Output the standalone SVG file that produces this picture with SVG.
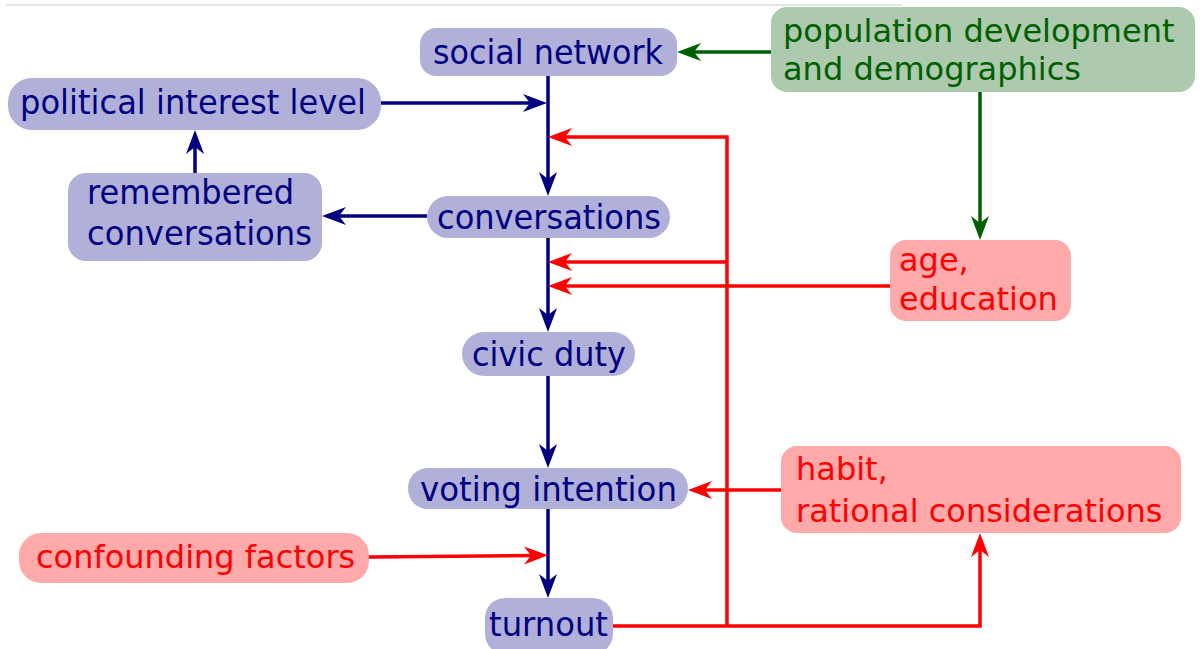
<svg xmlns="http://www.w3.org/2000/svg" width="1202" height="649" viewBox="0 0 1202 649">
<style>
text{font-family:"DejaVu Sans","Liberation Sans",sans-serif;font-size:32px}
.b rect{fill:#b0b0d9}
.b text{fill:#000080;font-size:34.5px}
.g rect{fill:#adcaae}
.g text{fill:#006000}
.r rect{fill:#ffaaaa}
.r text{fill:#ff0000}
.cb{stroke:#000080;stroke-width:3.5;fill:none}
.cg{stroke:#006000;stroke-width:3.5;fill:none}
.cr{stroke:#ff0000;stroke-width:3.5;fill:none}
</style>
<defs>
<marker id="mb" markerUnits="userSpaceOnUse" markerWidth="1" markerHeight="1" refX="0" refY="0" orient="auto" overflow="visible"><path d="M17,0 L-7,-9 L0,0 L-7,9 Z" fill="#000080"/></marker>
<marker id="mg" markerUnits="userSpaceOnUse" markerWidth="1" markerHeight="1" refX="0" refY="0" orient="auto" overflow="visible"><path d="M17,0 L-7,-9 L0,0 L-7,9 Z" fill="#006000"/></marker>
<marker id="mr" markerUnits="userSpaceOnUse" markerWidth="1" markerHeight="1" refX="0" refY="0" orient="auto" overflow="visible"><path d="M17,0 L-7,-9 L0,0 L-7,9 Z" fill="#ff0000"/></marker>
</defs>
<line x1="6" y1="5" x2="902" y2="5" stroke="#dddddd" stroke-width="1.5"/>
<g id="connectors">
<path class="cb" d="M548,76 V179" marker-end="url(#mb)"/>
<path class="cb" d="M381,103 H530" marker-end="url(#mb)"/>
<path class="cb" d="M548,238 V315" marker-end="url(#mb)"/>
<path class="cb" d="M548,376 V451" marker-end="url(#mb)"/>
<path class="cb" d="M548,508 V581" marker-end="url(#mb)"/>
<path class="cb" d="M427,216 H339" marker-end="url(#mb)"/>
<path class="cb" d="M195,173 V147" marker-end="url(#mb)"/>
<path class="cg" d="M771,52 H694" marker-end="url(#mg)"/>
<path class="cg" d="M980,92 V223" marker-end="url(#mg)"/>
<path class="cr" d="M613,626 H980 V550" marker-end="url(#mr)"/>
<path class="cr" d="M727,626 V137 H565" marker-end="url(#mr)"/>
<path class="cr" d="M727,262 H565" marker-end="url(#mr)"/>
<path class="cr" d="M890,286 H565" marker-end="url(#mr)"/>
<path class="cr" d="M781,490 H705" marker-end="url(#mr)"/>
<path class="cr" d="M369,557 L531,555.5" marker-end="url(#mr)"/>
</g>
<g id="social-network" class="b"><rect x="420" y="28" width="257" height="48" rx="16"/><text x="433" y="64" textLength="230" lengthAdjust="spacingAndGlyphs">social network</text></g>
<g id="political-interest-level" class="b"><rect x="8" y="78" width="373" height="52" rx="24"/><text x="20" y="114" textLength="346" lengthAdjust="spacingAndGlyphs">political interest level</text></g>
<g id="remembered-conversations" class="b"><rect x="68" y="173" width="254" height="88" rx="18"/><text x="87" y="204" textLength="207" lengthAdjust="spacingAndGlyphs">remembered</text><text x="87" y="245" textLength="225" lengthAdjust="spacingAndGlyphs">conversations</text></g>
<g id="conversations" class="b"><rect x="427" y="196" width="243" height="42" rx="21"/><text x="437" y="229" textLength="224" lengthAdjust="spacingAndGlyphs">conversations</text></g>
<g id="civic-duty" class="b"><rect x="462" y="332" width="173" height="44" rx="22"/><text x="472" y="366" textLength="154" lengthAdjust="spacingAndGlyphs">civic duty</text></g>
<g id="voting-intention" class="b"><rect x="408" y="468" width="280" height="41" rx="20"/><text x="420" y="501" textLength="257" lengthAdjust="spacingAndGlyphs">voting intention</text></g>
<g id="turnout" class="b"><rect x="485" y="598" width="128" height="56" rx="20"/><text x="489" y="636" textLength="119" lengthAdjust="spacingAndGlyphs">turnout</text></g>
<g id="population-development" class="g"><rect x="771" y="7" width="424" height="85" rx="16"/><text x="783" y="42">population development</text><text x="783" y="80">and demographics</text></g>
<g id="age-education" class="r"><rect x="890" y="240" width="181" height="81" rx="16"/><text x="899" y="271">age,</text><text x="899" y="310">education</text></g>
<g id="habit" class="r"><rect x="781" y="446" width="400" height="87" rx="16"/><text x="796" y="480">habit,</text><text x="796" y="522">rational considerations</text></g>
<g id="confounding-factors" class="r"><rect x="19" y="533" width="350" height="50" rx="22"/><text x="36" y="568">confounding factors</text></g>
</svg>
